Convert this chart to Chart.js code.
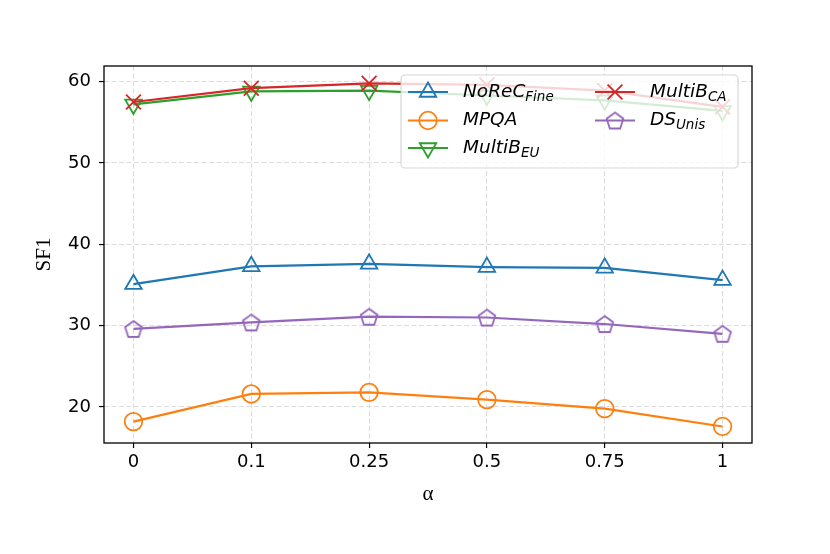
<!DOCTYPE html>
<html>
<head>
<meta charset="utf-8">
<script src="https://cdn.jsdelivr.net/npm/chart.js@4.4.0/dist/chart.umd.min.js"></script>
<style>
  html, body { margin: 0; padding: 0; background: #fff; }
  #wrap { width: 830px; height: 554px; }
</style>
</head>
<body>
<div id="wrap"><canvas id="sf1Chart" width="830" height="554"></canvas></div>
<script>
// Data
const alphaLabels = ['0', '0.1', '0.25', '0.5', '0.75', '1'];
const noRecFine = [35.1, 37.3, 37.6, 37.2, 37.1, 35.6];
const mpqa = [18.2, 21.6, 21.8, 20.9, 19.8, 17.6];
const multiBEU = [57.2, 58.8, 58.9, 58.3, 57.7, 56.4];
const multiBCA = [57.5, 59.2, 59.8, 59.6, 58.9, 56.9];
const dsUnis = [29.6, 30.4, 31.1, 31.0, 30.2, 29.0];
const yTicks = [20, 30, 40, 50, 60];

// Pentagon marker (not built into Chart.js)
function makePentagon(color, r, lw) {
    const size = Math.ceil(2 * r + 2 * lw + 2);
    const c = document.createElement('canvas');
    c.width = size; c.height = size;
    const g = c.getContext('2d');
    const cx = size / 2, cy = size / 2 + r * 0.1;
    g.beginPath();
    for (let k = 0; k < 5; k++) {
        const a = -Math.PI / 2 + k * 2 * Math.PI / 5;
        const px = cx + r * Math.cos(a), py = cy + r * Math.sin(a);
        if (k === 0) g.moveTo(px, py); else g.lineTo(px, py);
    }
    g.closePath();
    g.strokeStyle = color;
    g.lineWidth = lw;
    g.stroke();
    return c;
}

const pentagon = makePentagon('#9467bd', 8.8, 1.8);

const series = [
    { main: 'NoReC', sub: 'Fine', data: noRecFine, color: '#1f77b4', style: 'triangle', rot: 0, radius: 9.5 },
    { main: 'MPQA', sub: '', data: mpqa, color: '#ff7f0e', style: 'circle', rot: 0, radius: 8.8 },
    { main: 'MultiB', sub: 'EU', data: multiBEU, color: '#2ca02c', style: 'triangle', rot: 180, radius: 9.5 },
    { main: 'MultiB', sub: 'CA', data: multiBCA, color: '#d62728', style: 'crossRot', rot: 0, radius: 10.5 },
    { main: 'DS', sub: 'Unis', data: dsUnis, color: '#9467bd', style: pentagon, rot: 0, radius: 9 }
];

// Frame + legend with subscripts
const frameLegend = {
    id: 'frameLegend',
    afterDatasetsDraw(chart) {
        const ctx = chart.ctx;
        const a = chart.chartArea;
        ctx.save();
        ctx.strokeStyle = '#000';
        ctx.lineWidth = 1.3;
        ctx.setLineDash([]);
        ctx.strokeRect(a.left, a.top, a.right - a.left, a.bottom - a.top);

        // legend box
        const bx = 401, by = 75, bw = 337, bh = 93, rad = 4;
        ctx.beginPath();
        ctx.moveTo(bx + rad, by);
        ctx.arcTo(bx + bw, by, bx + bw, by + bh, rad);
        ctx.arcTo(bx + bw, by + bh, bx, by + bh, rad);
        ctx.arcTo(bx, by + bh, bx, by, rad);
        ctx.arcTo(bx, by, bx + bw, by, rad);
        ctx.closePath();
        ctx.fillStyle = 'rgba(255,255,255,0.8)';
        ctx.fill();
        ctx.strokeStyle = 'rgba(204,204,204,0.8)';
        ctx.lineWidth = 1.2;
        ctx.stroke();

        const slots = [
            [428, 92], [428, 120.5], [428, 148],
            [615, 92], [615, 120.5]
        ];
        series.forEach((s, i) => {
            const [cx, cy] = slots[i];
            ctx.strokeStyle = s.color;
            ctx.fillStyle = 'transparent';
            ctx.lineWidth = 2.2;
            ctx.beginPath();
            ctx.moveTo(cx - 20, cy);
            ctx.lineTo(cx + 20, cy);
            ctx.stroke();
            ctx.lineWidth = 1.8;
            Chart.helpers.drawPoint(ctx, {
                pointStyle: s.style, rotation: s.rot, radius: s.radius, borderWidth: 1.8
            }, cx, cy);

            const tx = cx + 35;
            ctx.fillStyle = '#000';
            ctx.textBaseline = 'middle';
            ctx.textAlign = 'left';
            ctx.font = 'italic 18.5px "DejaVu Sans"';
            ctx.fillText(s.main, tx, cy);
            if (s.sub) {
                const w = ctx.measureText(s.main).width;
                ctx.font = 'italic 13.5px "DejaVu Sans"';
                ctx.fillText(s.sub, tx + w, cy + 5);
            }
        });
        ctx.restore();
    }
};

const ctx = document.getElementById('sf1Chart').getContext('2d');
const sf1Chart = new Chart(ctx, {
    type: 'line',
    data: {
        datasets: series.map((s, i) => ({
            label: s.main + s.sub,
            data: s.data.map((v, k) => ({ x: k, y: v })),
            borderColor: s.color,
            backgroundColor: 'transparent',
            borderWidth: 2.2,
            pointStyle: s.style,
            pointRotation: s.rot,
            pointRadius: s.radius,
            pointBorderWidth: 1.8,
            pointBorderColor: s.color,
            pointBackgroundColor: 'transparent',
            tension: 0,
            order: series.length - i
        }))
    },
    options: {
        responsive: false,
        animation: false,
        events: [],
        layout: { padding: { top: 66, right: 78, left: 0, bottom: 0 } },
        plugins: {
            legend: { display: false },
            tooltip: { enabled: false }
        },
        scales: {
            x: {
                type: 'linear',
                min: -0.25,
                max: 5.25,
                afterFit(scale) { scale.height = 111; },
                afterBuildTicks(scale) {
                    scale.ticks = alphaLabels.map((_, k) => ({ value: k }));
                },
                ticks: {
                    callback: (v) => alphaLabels[v],
                    color: '#000',
                    font: { family: 'DejaVu Sans', size: 18 },
                    padding: 4,
                    maxRotation: 0
                },
                grid: {
                    color: '#dcdcdc',
                    lineWidth: 1.1,
                    tickColor: '#000',
                    tickLength: 5,
                    tickWidth: 1.2,
                    tickBorderDash: []
                },
                border: { display: false, dash: [5, 2.5] },
                title: {
                    display: true,
                    text: 'α',
                    color: '#000',
                    font: { family: 'Liberation Serif', size: 21 },
                    padding: { top: 0, bottom: 47 }
                }
            },
            y: {
                min: 15.57,
                max: 61.93,
                afterFit(scale) { scale.width = 104; },
                afterBuildTicks(scale) {
                    scale.ticks = yTicks.map(v => ({ value: v }));
                },
                ticks: {
                    color: '#000',
                    font: { family: 'DejaVu Sans', size: 18 },
                    padding: 8
                },
                grid: {
                    color: '#dcdcdc',
                    lineWidth: 1.1,
                    tickColor: '#000',
                    tickLength: 5,
                    tickWidth: 1.2,
                    tickBorderDash: []
                },
                border: { display: false, dash: [5, 2.5] },
                title: {
                    display: true,
                    text: 'SF1',
                    color: '#000',
                    font: { family: 'Liberation Serif', size: 21 },
                    padding: { top: 32, bottom: 0 }
                }
            }
        }
    },
    plugins: [frameLegend]
});
</script>
</body>
</html>
